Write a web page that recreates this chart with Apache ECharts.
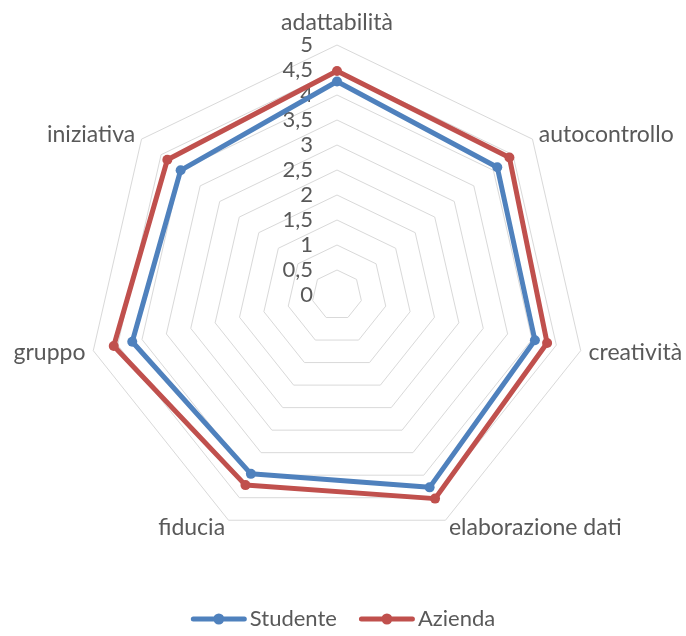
<!DOCTYPE html>
<html>
<head>
<meta charset="utf-8">
<script src="https://cdn.jsdelivr.net/npm/echarts@6/dist/echarts.min.js"></script>
<style>
  html, body { margin: 0; padding: 0; background: #fff; }
  #chart { width: 686px; height: 636px; }
</style>
</head>
<body>
<div id="chart"></div>
<script>
// assi in senso orario partendo dall'alto
var categories = ['adattabilità', 'autocontrollo', 'creatività', 'elaborazione dati', 'fiducia', 'gruppo', 'iniziativa'];
var studente = [4.27, 4.1, 4.06, 4.27, 3.97, 4.2, 4.0];
var azienda = [4.48, 4.41, 4.31, 4.52, 4.22, 4.58, 4.34];
var tickMax = 5;
var tickStep = 0.5;

// echarts disegna il radar in senso antiorario: inverto l'ordine dopo il primo
function clockwise(arr) {
  return [arr[0]].concat(arr.slice(1).reverse());
}

// icona legenda: linea con cerchio al centro (come Excel)
var lineMarkerIcon = 'path://M2.5,3 L53.5,3 A2.5,2.5 0 0,1 53.5,8 L2.5,8 A2.5,2.5 0 0,1 2.5,3 Z M33.5,5.5 A5.5,5.5 0 1,1 22.5,5.5 A5.5,5.5 0 1,1 33.5,5.5 Z';

var chart = echarts.init(document.getElementById('chart'));

var indicators = clockwise(categories).map(function (name, i) {
  var ind = { name: name, min: 0, max: tickMax };
  if (i === 0) {
    ind.axisLabel = { show: true };
  }
  return ind;
});

chart.setOption({
  backgroundColor: '#fff',
  textStyle: { fontFamily: 'Lato' },
  legend: {
    bottom: 1,
    left: 'center',
    icon: lineMarkerIcon,
    itemWidth: 56,
    itemHeight: 11,
    itemGap: 22,
    textStyle: { fontSize: 22, color: '#595959', fontFamily: 'Lato', padding: [0, 0, 0, -2] },
    data: ['Studente', 'Azienda']
  },
  radar: {
    center: [337, 295],
    radius: 250,
    startAngle: 90,
    splitNumber: tickMax / tickStep,
    shape: 'polygon',
    indicator: indicators,
    axisName: { color: '#595959', fontSize: 23, fontFamily: 'Lato' },
    nameGap: 8,
    axisLine: { show: false },
    axisTick: { show: false },
    splitArea: { show: false },
    splitLine: { lineStyle: { color: '#d9d9d9', width: 1 } },
    axisLabel: {
      show: false,
      color: '#595959',
      fontSize: 22,
      fontFamily: 'Lato',
      margin: 24,
      formatter: function (v) { return String(v).replace('.', ','); }
    }
  },
  series: [
    {
      name: 'Studente',
      type: 'radar',
      symbol: 'circle',
      symbolSize: 10,
      itemStyle: { color: '#4f81bd' },
      lineStyle: { color: '#4f81bd', width: 5 },
      data: [{ name: 'Studente', value: clockwise(studente) }]
    },
    {
      name: 'Azienda',
      type: 'radar',
      symbol: 'circle',
      symbolSize: 10,
      itemStyle: { color: '#c0504d' },
      lineStyle: { color: '#c0504d', width: 5 },
      data: [{ name: 'Azienda', value: clockwise(azienda) }]
    }
  ]
});
</script>
</body>
</html>
